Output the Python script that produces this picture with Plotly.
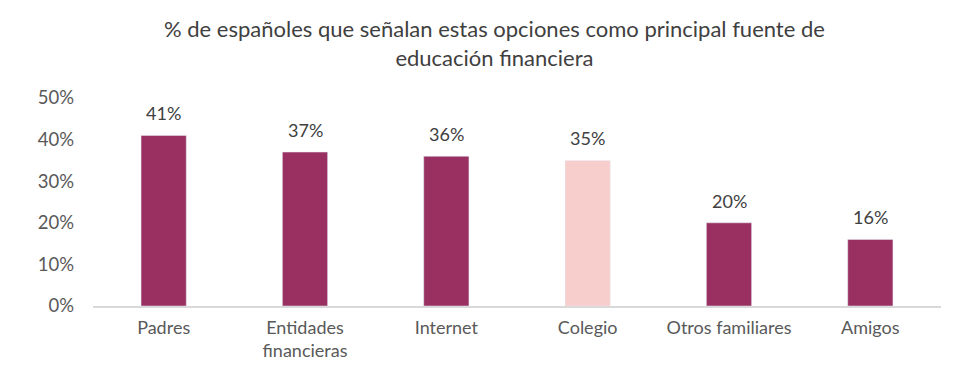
import plotly.graph_objects as go

categories = ["Padres", "Entidades<br>financieras", "Internet", "Colegio", "Otros familiares", "Amigos"]
values = [0.41, 0.37, 0.36, 0.35, 0.20, 0.16]
labels = ["41%", "37%", "36%", "35%", "20%", "16%"]
colors = ["#993061", "#993061", "#993061", "#F8CECC", "#993061", "#993061"]
title_text = "% de españoles que señalan estas opciones como principal fuente de<br>educación financiera"
y_ticks = [0, 0.1, 0.2, 0.3, 0.4, 0.5]
y_ticklabels = ["0%", "10%", "20%", "30%", "40%", "50%"]

font_family = "Lato, 'Open Sans', sans-serif"

# page body has an 8px margin; figure sized to fit the window without overflow
W, H = 942, 355
L, R, T, B = 85, 9, 90, 57
plot_h = H - T - B

fig = go.Figure(go.Bar(
    x=categories, y=values, marker_color=colors, width=0.32,
    hoverinfo="x+y",
))

for c, v, t in zip(categories, values, labels):
    fig.add_annotation(x=c, y=v, text=t, showarrow=False, yanchor="bottom",
                       yshift=9, font=dict(size=18, color="#404040", family=font_family))

fig.add_annotation(text=title_text, xref="paper", yref="paper",
                   x=(494 - 8 - L) / (W - L - R), y=(H - B - 35.5) / plot_h,
                   xanchor="center", yanchor="middle", showarrow=False,
                   font=dict(size=22, color="#404040", family=font_family))

fig.update_layout(
    width=W, height=H,
    margin=dict(l=L, r=R, t=T, b=B, autoexpand=False),
    paper_bgcolor="white", plot_bgcolor="white",
    showlegend=False,
)
fig.update_xaxes(showline=True, linecolor="#D9D9D9", linewidth=2, ticks="", automargin=False,
                 tickfont=dict(size=18, color="#595959", family=font_family),
                 ticklabelstandoff=4)
fig.update_yaxes(range=[0, 0.5], tickvals=y_ticks, ticktext=y_ticklabels, showgrid=False,
                 zeroline=False, showline=False, automargin=False,
                 tickfont=dict(size=18.5, color="#595959", family=font_family),
                 ticklabelstandoff=18)

fig.write_html("out.html")
